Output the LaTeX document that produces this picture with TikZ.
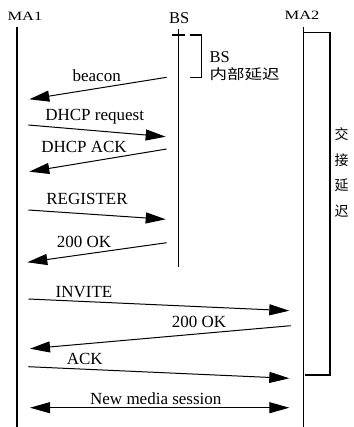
\documentclass[tikz,border=0pt]{standalone}
\usepackage{fontspec}
\usepackage{graphicx}
\setmainfont{Liberation Serif}
\newfontfamily\cjk{Noto Sans CJK SC}
\usetikzlibrary{arrows.meta}
\begin{document}
\begin{tikzpicture}[x=1pt,y=-1pt,
  lifeline/.style={line width=1.2pt},
  msgarrow/.style={line width=1pt,-{Triangle[length=20pt,width=11pt]}},
  msgboth/.style={line width=1pt,{Triangle[length=20pt,width=11pt]}-{Triangle[length=20pt,width=11pt]}},
  bracketline/.style={line width=1.2pt},
  lbl/.style={inner sep=0pt,anchor=base,font=\fontsize{17}{20}\selectfont},
  hdr/.style={inner sep=0pt,anchor=base},
  cjkv/.style={inner sep=0pt,font=\fontsize{14}{16}\cjk}]
\useasboundingbox (0,0) rectangle (353,427);
% headers
\node[hdr] (ma1) at (25,20.7) {\fontsize{12.7}{15}\selectfont\scalebox{1.3}[1]{MA1}};
\node[hdr,font=\fontsize{16.5}{19}\selectfont] (bs) at (179.3,23.3) {BS};
\node[hdr] (ma2) at (302,20) {\fontsize{12.7}{15}\selectfont\scalebox{1.3}[1]{MA2}};
% lifelines
\coordinate (a1) at (17,27); \coordinate (a2) at (17,427);
\coordinate (b1) at (178.7,29.3); \coordinate (b2) at (178.7,266.7);
\coordinate (c1) at (303.3,26.7); \coordinate (c2) at (303.3,427);
\draw[lifeline] (a1) -- (a2);
\draw[lifeline] (b1) -- (b2);
\draw[lifeline] (c1) -- (c2);
\coordinate (t1) at (171.7,35); \coordinate (t2) at (185,35);
\draw[lifeline] (t1) -- (t2);
% BS bracket
\coordinate (p1) at (190,35); \coordinate (p2) at (201.7,35);
\coordinate (p3) at (201.7,77.3); \coordinate (p4) at (190,77.3);
\draw[bracketline] (p1) -- (p2) -- (p3) -- (p4);
\node[hdr,anchor=base west,font=\fontsize{16.5}{19}\selectfont] (bslbl) at (209.5,62.3) {BS};
\node[hdr,anchor=base west] (bsdelay) at (209.5,79.5) {\fontsize{14}{16}\cjk\scalebox{1.25}[1]{内部延迟}};
% MA2 bracket
\coordinate (q1) at (303.3,32.7); \coordinate (q2) at (330,32.7);
\coordinate (q3) at (330,375); \coordinate (q4) at (305,375);
\draw[bracketline] (q1) -- (q2) -- (q3) -- (q4);
\node[cjkv] (h1) at (341.5,134) {交};
\node[cjkv] (h2) at (341.5,160) {接};
\node[cjkv] (h3) at (341.5,185) {延};
\node[cjkv] (h4) at (341.5,211) {迟};
% messages
\coordinate (m1s) at (166.7,77.3); \coordinate (m1e) at (29.3,99.3);
\draw[msgarrow] (m1s) -- (m1e);
\node[lbl] (l1) at (96.7,81.7) {beacon};
\coordinate (m2s) at (28.3,125); \coordinate (m2e) at (165.7,136.7);
\draw[msgarrow] (m2s) -- (m2e);
\node[lbl] (l2) at (94.7,120.7) {DHCP request};
\coordinate (m3s) at (166.7,149); \coordinate (m3e) at (29.3,171.7);
\draw[msgarrow] (m3s) -- (m3e);
\node[lbl] (l3) at (84,152.7) {DHCP ACK};
\coordinate (m4s) at (28.3,210); \coordinate (m4e) at (165.7,219.3);
\draw[msgarrow] (m4s) -- (m4e);
\node[lbl] (l4) at (87,204.3) {REGISTER};
\coordinate (m5s) at (166.7,242.7); \coordinate (m5e) at (27.3,262.3);
\draw[msgarrow] (m5s) -- (m5e);
\node[lbl] (l5) at (84,247.7) {200 OK};
\coordinate (m6s) at (28.3,299); \coordinate (m6e) at (289.3,310.7);
\draw[msgarrow] (m6s) -- (m6e);
\node[lbl] (l6) at (84,297.3) {INVITE};
\coordinate (m7s) at (290.7,325.7); \coordinate (m7e) at (30,348.7);
\draw[msgarrow] (m7s) -- (m7e);
\node[lbl] (l7) at (199,327.3) {200 OK};
\coordinate (m8s) at (28.3,366.7); \coordinate (m8e) at (289.3,378.3);
\draw[msgarrow] (m8s) -- (m8e);
\node[lbl] (l8) at (84.7,364.7) {ACK};
\coordinate (m9s) at (30,407.7); \coordinate (m9e) at (289.3,407.7);
\draw[msgboth] (m9s) -- (m9e);
\node[lbl] (l9) at (155.8,404.3) {New media session};
\end{tikzpicture}
\end{document}
